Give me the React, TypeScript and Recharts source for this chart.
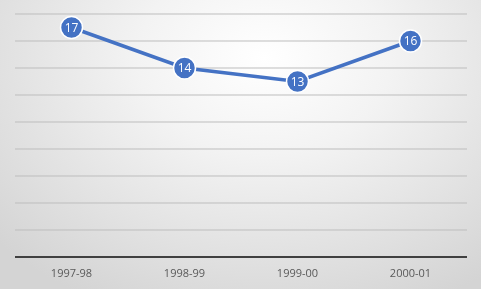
import { LineChart, Line, XAxis, YAxis, CartesianGrid, LabelList } from 'recharts';

const seasons = ['1997-98', '1998-99', '1999-00', '2000-01'];
const counts = [17, 14, 13, 16];
const yTicks = [0, 2, 4, 6, 8, 10, 12, 14, 16, 18];

const data = seasons.map((season, i) => ({ season, count: counts[i] }));

const BLUE = '#4472C4';

export default function App() {
    return (
        <div
            style={{
                position: 'fixed',
                left: 0,
                top: 0,
                width: 481,
                height: 289,
                background: 'radial-gradient(ellipse 75% 95% at 55% 20%, #ffffff 0%, #f3f3f3 35%, #d4d4d4 100%)',
                fontFamily: '"Open Sans", sans-serif',
            }}
        >
            <LineChart width={481} height={289} data={data} margin={{ top: 14, right: 14, bottom: 0, left: 15 }}>
                <CartesianGrid horizontal vertical={false} stroke="#BDBDBD" strokeWidth={1} />
                <YAxis hide domain={[0, 18]} ticks={yTicks} />
                <XAxis
                    dataKey="season"
                    height={32}
                    padding={{ left: 56.5, right: 56.5 }}
                    axisLine={{ stroke: '#404040', strokeWidth: 2 }}
                    tickLine={false}
                    tick={{ fill: '#595959', fontSize: 11 }}
                    tickMargin={6}
                />
                <Line
                    type="linear"
                    dataKey="count"
                    stroke={BLUE}
                    strokeWidth={3.5}
                    dot={{ r: 11, fill: BLUE, stroke: '#ffffff', strokeWidth: 1.5 }}
                    activeDot={false}
                    isAnimationActive={false}
                >
                    <LabelList dataKey="count" position="center" fill="#ffffff" fontSize={12} />
                </Line>
            </LineChart>
        </div>
    );
}
